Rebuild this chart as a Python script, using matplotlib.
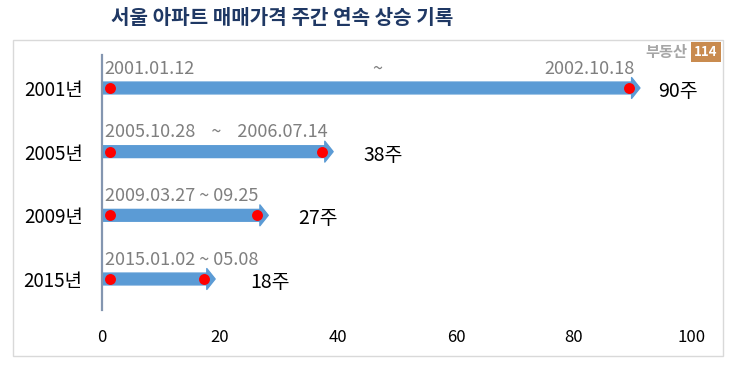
import matplotlib.pyplot as plt
from matplotlib.patches import Rectangle
from matplotlib.transforms import offset_copy

plt.rcParams['font.family'] = ['Noto Sans CJK KR', 'DejaVu Sans']

# data
years = ["2001년", "2005년", "2009년", "2015년"]
weeks = [90, 38, 27, 18]
week_labels = ["90주", "38주", "27주", "18주"]
period_labels = ["2001.01.12", "2005.10.28    ~    2006.07.14",
                 "2009.03.27 ~ 09.25", "2015.01.02 ~ 05.08"]
first_row_mid = "~"
first_row_end = "2002.10.18"
first_row_mid_x = 46.6
first_row_end_x = 90.3

ARROW_COLOR = "#5b9bd5"
DOT_COLOR = "#ff0000"
GRAY = "#7f7f7f"

W, H = 738, 371
fig = plt.figure(figsize=(W / 100, H / 100), dpi=100)

# outer frame
fig.patches.append(Rectangle((13 / W, (H - 356) / H), (723 - 13) / W, (356 - 40) / H,
                             transform=fig.transFigure, fill=False,
                             edgecolor="#d9d9d9", lw=1.0))

ax = fig.add_axes([102 / W, (H - 310) / H, 590 / W, 255 / H])
ax.set_xlim(0, 100)
ax.set_ylim(3.487, -0.518)

rows = list(range(len(years)))

# arrows (body ends at the value, head sticks out a little)
tip = offset_copy(ax.transData, fig=fig, x=5, y=0, units='points')
for i, v in zip(rows, weeks):
    ax.annotate("", xy=(v, i), xycoords=tip, xytext=(0, i), textcoords='data',
                arrowprops=dict(arrowstyle="simple,head_length=0.6,head_width=1.5,tail_width=0.85",
                                color=ARROW_COLOR, shrinkA=0, shrinkB=0,
                                mutation_scale=10),
                zorder=2)

# start / end markers
start_tr = offset_copy(ax.transData, fig=fig, x=6, y=0, units='points')
end_tr = offset_copy(ax.transData, fig=fig, x=-3, y=0, units='points')
ax.scatter([0] * len(rows), rows, s=62, color=DOT_COLOR, transform=start_tr, zorder=3, lw=0)
ax.scatter(weeks, rows, s=62, color=DOT_COLOR, transform=end_tr, zorder=3, lw=0)

# period labels above arrows
for i, txt in zip(rows, period_labels):
    ax.annotate(txt, (0, i), xytext=(2, 14), textcoords='offset points',
                ha='left', va='center', fontsize=13, color=GRAY)
ax.annotate(first_row_mid, (first_row_mid_x, 0), xytext=(0, 14), textcoords='offset points',
            ha='center', va='center', fontsize=13, color=GRAY)
ax.annotate(first_row_end, (first_row_end_x, 0), xytext=(0, 14), textcoords='offset points',
            ha='right', va='center', fontsize=13, color=GRAY)

# week counts
week_dx = [18, 26.5, 26.5, 30]
for i, v, lab, dx in zip(rows, weeks, week_labels, week_dx):
    ax.annotate(lab, (v, i), xytext=(dx, -2.5), textcoords='offset points',
                ha='left', va='center', fontsize=14, color='black')

ax.set_yticks(rows)
ax.set_yticklabels(years, fontsize=13.5)
ax.set_xticks([0, 20, 40, 60, 80, 100])
ax.tick_params(axis='x', length=0, pad=14, labelsize=12)
ax.tick_params(axis='y', length=0, pad=14)
for s in ['top', 'right', 'bottom']:
    ax.spines[s].set_visible(False)
ax.spines['left'].set_color('#8496b0')
ax.spines['left'].set_linewidth(1.6)
ax.set_facecolor('none')

fig.text(282 / W, 1 - 17 / H, "서울 아파트 매매가격 주간 연속 상승 기록",
         ha='center', va='center', fontsize=14.5, fontweight='bold', color='#1f3864')

# logo
fig.text(666 / W, 1 - 52 / H, "부동산", ha='center', va='center',
         fontsize=11, fontweight='bold', color='#a6a6a6')
fig.text(706 / W, 1 - 52 / H, "114", ha='center', va='center', fontsize=9.5,
         fontweight='bold', color='white',
         bbox=dict(boxstyle='square,pad=0.25', facecolor='#c98b4f', edgecolor='none'))

fig.savefig("out.png", dpi=100)
